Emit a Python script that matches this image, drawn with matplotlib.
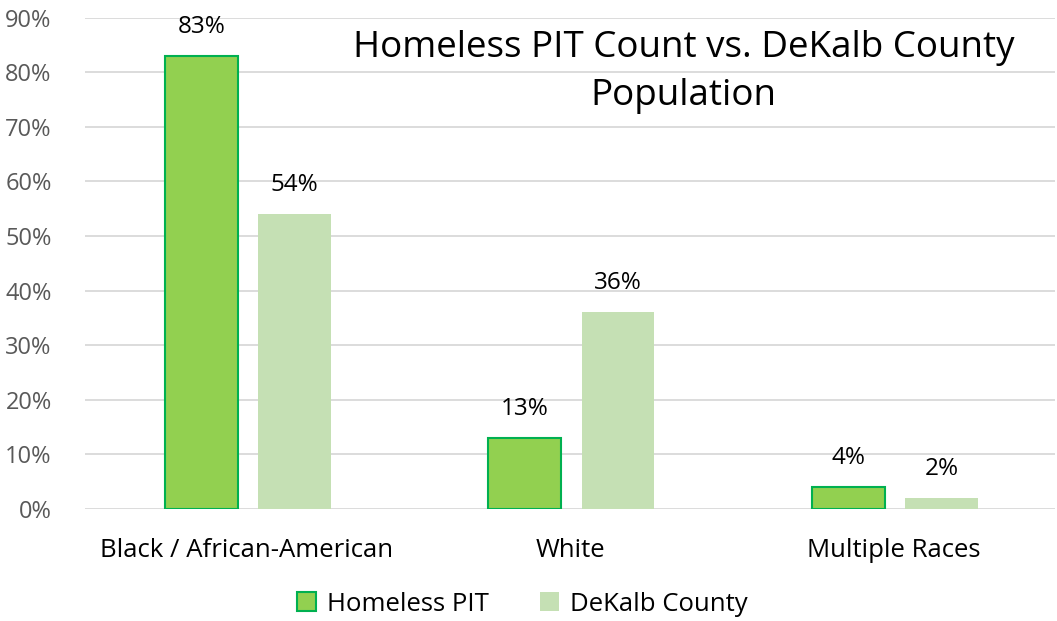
import matplotlib.pyplot as plt
import numpy as np

# Datos
categorias = ['Black / African-American', 'White', 'Multiple Races']
homeless_pit = [83, 13, 4]
dekalb_county = [54, 36, 2]
ticks_y = [0, 10, 20, 30, 40, 50, 60, 70, 80, 90]

plt.rcParams['font.family'] = ['Open Sans', 'DejaVu Sans']

fig = plt.figure(figsize=(10.57, 6.21), dpi=100)
ax = fig.add_axes([0.0804, 0.1804, 0.918, 0.791])

x = np.arange(len(categorias))
ancho = 0.225

b1 = ax.bar(x - 0.14, homeless_pit, ancho, color='#92D050', edgecolor='#00B050',
            linewidth=1.5, label='Homeless PIT', zorder=3)
b2 = ax.bar(x + 0.148, dekalb_county, ancho, color='#C5E0B4', label='DeKalb County', zorder=3)

# Etiquetas de valores
for barras in (b1, b2):
    for b in barras:
        ax.text(b.get_x() + b.get_width() / 2, b.get_height() + 3.2, f'{int(b.get_height())}%',
                ha='center', va='bottom', fontsize=17.5, color='black')

ax.set_xlim(-0.5, 2.5)
ax.set_ylim(0, 90)
ax.set_yticks(ticks_y)
ax.set_yticklabels([f'{t}%' for t in ticks_y], fontsize=17, color='#595959')
ax.set_xticks(x)
ax.set_xticklabels(categorias, fontsize=18.5, color='black')
ax.tick_params(axis='both', length=0)
ax.tick_params(axis='y', pad=24)
ax.tick_params(axis='x', pad=21)
ax.grid(axis='y', color='#D9D9D9', linewidth=1.3, zorder=0)
for s in ax.spines.values():
    s.set_visible(False)

ax.text(0.617, 0.975, 'Homeless PIT Count vs. DeKalb County\nPopulation', transform=ax.transAxes,
        ha='center', va='top', fontsize=26.5, linespacing=1.45, color='black')

fig.legend(loc='center', bbox_to_anchor=(0.494, 0.027), ncol=2, frameon=False,
           fontsize=18.5, handlelength=0.75, handleheight=0.75, columnspacing=2.0, handletextpad=0.4)

fig.savefig('out.png', dpi=100)
